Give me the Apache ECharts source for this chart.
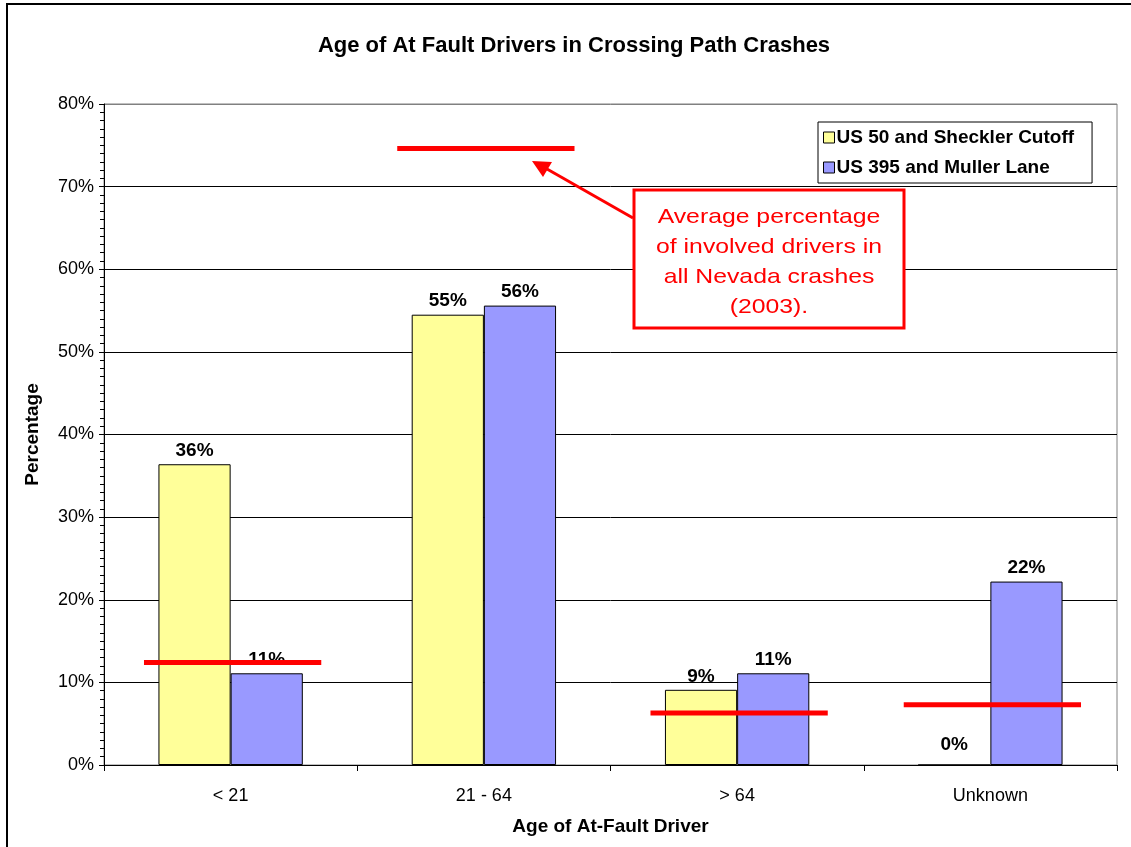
<!DOCTYPE html>
<html>
<head>
<meta charset="utf-8">
<script src="https://cdn.jsdelivr.net/npm/echarts@6/dist/echarts.min.js"></script>
<style>
  html, body { margin: 0; padding: 0; background: #fff; }
  #chart { width: 1131px; height: 847px; }
</style>
</head>
<body>
<div id="chart"></div>
<script>
// chart data
const categories = ['< 21', '21 - 64', '> 64', 'Unknown']
const seriesNames = ['US 50 and Sheckler Cutoff', 'US 395 and Muller Lane']
const sheckler = [36.4, 54.5, 9.1, 0]
const muller = [11.1, 55.6, 11.1, 22.2]
// average percentage of involved drivers in all Nevada crashes (2003)
const nevadaAvg = [12.4, 74.6, 6.3, 7.3]
const yTicks = [0, 10, 20, 30, 40, 50, 60, 70, 80]

const font = 'Liberation Sans, Arial, sans-serif'
const chart = echarts.init(document.getElementById('chart'))

const barLabel = {
  show: true,
  position: 'top',
  distance: 4,
  fontFamily: font,
  fontSize: 19,
  fontWeight: 'bold',
  color: '#000',
  formatter: p => Math.round(p.value) + '%'
}

// split line colours: top one is grey like the plot frame
const splitColors = yTicks.map((t, i) => i === yTicks.length - 1 ? '#808080' : '#000')

chart.setOption({
  animation: false,
  backgroundColor: '#fff',
  textStyle: { fontFamily: font },
  title: {
    text: 'Age of At Fault Drivers in Crossing Path Crashes',
    left: 569,
    top: 30,
    textAlign: 'center',
    textStyle: { fontFamily: font, fontSize: 22, fontWeight: 'bold', color: '#000' }
  },
  legend: {
    orient: 'vertical',
    left: 818,
    top: 122,
    padding: [6, 18, 6, 5],
    itemGap: 11,
    itemWidth: 11,
    itemHeight: 11,
    borderColor: '#000',
    borderWidth: 1,
    backgroundColor: '#fff',
    icon: 'rect',
    itemStyle: { borderColor: '#000', borderWidth: 1 },
    textStyle: { fontFamily: font, fontSize: 19, fontWeight: 'bold', color: '#000', padding: [0, 0, 0, -3] },
    data: seriesNames
  },
  grid: {
    left: 104,
    right: 14,
    top: 104,
    bottom: 82,
    show: true,
    borderColor: '#808080',
    borderWidth: 1
  },
  xAxis: {
    type: 'category',
    data: categories,
    name: 'Age of At-Fault Driver',
    nameLocation: 'middle',
    nameGap: 52,
    nameTextStyle: { fontFamily: font, fontSize: 19, fontWeight: 'bold', color: '#000' },
    axisLine: { lineStyle: { color: '#000', width: 1 } },
    axisTick: { show: true, length: 6, lineStyle: { color: '#000' } },
    axisLabel: { margin: 22, fontFamily: font, fontSize: 18, color: '#000' }
  },
  yAxis: {
    type: 'value',
    min: 0,
    max: 80,
    interval: 10,
    name: 'Percentage',
    nameLocation: 'middle',
    nameGap: 62,
    nameTextStyle: { fontFamily: font, fontSize: 19, fontWeight: 'bold', color: '#000' },
    axisLine: { show: true, lineStyle: { color: '#000', width: 1 } },
    axisTick: { show: true, length: 5, lineStyle: { color: '#000' } },
    minorTick: { show: true, splitNumber: 10, length: 4, lineStyle: { color: '#000' } },
    axisLabel: { margin: 10, fontFamily: font, fontSize: 18, color: '#000', formatter: '{value}%' },
    splitLine: { show: true, lineStyle: { color: splitColors, width: 1 } }
  },
  series: [
    {
      name: seriesNames[0],
      type: 'bar',
      // zero bar label sits a bit higher in the original
      data: sheckler.map(v => v === 0 ? { value: v, label: { distance: 10 } } : v),
      barGap: '0%',
      barCategoryGap: '43%',
      itemStyle: { color: '#FFFF99', borderColor: '#000', borderWidth: 1 },
      label: barLabel
    },
    {
      name: seriesNames[1],
      type: 'bar',
      data: muller,
      itemStyle: { color: '#9999FF', borderColor: '#000', borderWidth: 1 },
      label: barLabel
    },
    {
      name: 'Nevada average',
      type: 'custom',
      z: 10,
      data: nevadaAvg.map((v, i) => [i, v]),
      renderItem: (params, api) => {
        const c = api.coord([api.value(0), api.value(1)])
        const w = api.size([1, 0])[0] * 0.7
        return {
          type: 'line',
          shape: { x1: c[0] - w / 2 + 2, y1: c[1], x2: c[0] + w / 2 + 2, y2: c[1] },
          style: { stroke: '#FF0000', lineWidth: 5 }
        }
      }
    }
  ],
  graphic: [
    {
      type: 'rect',
      shape: { x: 7, y: 4, width: 1140, height: 860 },
      style: { fill: 'none', stroke: '#000', lineWidth: 2 },
      silent: true
    },
    {
      type: 'polyline',
      shape: { points: [[633, 218], [547, 169]] },
      style: { stroke: '#FF0000', lineWidth: 3, fill: 'none' },
      z: 20
    },
    {
      type: 'polygon',
      shape: { points: [[532, 161], [552, 162], [543, 177]] },
      style: { fill: '#FF0000' },
      z: 20
    },
    {
      type: 'rect',
      shape: { x: 634, y: 190, width: 270, height: 138 },
      style: { fill: '#fff', stroke: '#FF0000', lineWidth: 3 },
      z: 20
    },
    {
      type: 'text',
      x: 769,
      y: 202,
      scaleX: 1.18,
      z: 21,
      style: {
        text: 'Average percentage\nof involved drivers in\nall Nevada crashes\n(2003).',
        fontFamily: font,
        fontSize: 21,
        lineHeight: 30,
        fill: '#FF0000',
        align: 'center'
      }
    }
  ]
})

window.addEventListener('resize', () => chart.resize())
</script>
</body>
</html>
